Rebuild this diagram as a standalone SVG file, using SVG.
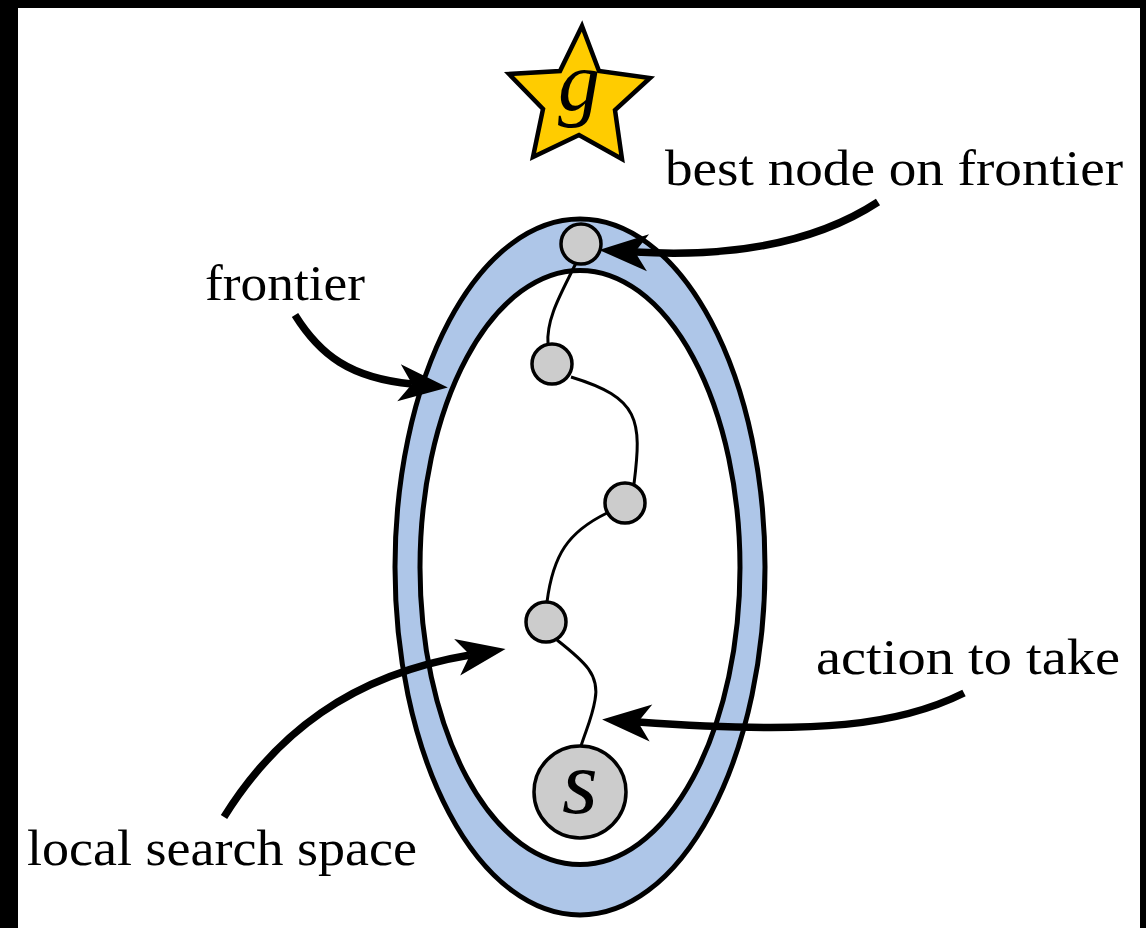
<svg xmlns="http://www.w3.org/2000/svg" width="1146" height="928" viewBox="0 0 1146 928">
<style>
.lbl{font-family:"Liberation Serif","Times New Roman",serif;font-size:51px;fill:#000}
.math{font-family:"Liberation Serif","Times New Roman",serif;font-style:italic;fill:#000;text-anchor:middle}
.node{fill:#cccccc;stroke:#000;stroke-width:3.5}
.edge{fill:none;stroke:#000;stroke-width:3}
.arrow{fill:none;stroke:#000;stroke-width:7.5;marker-end:url(#head)}
</style>
<defs>
<marker id="head" markerUnits="userSpaceOnUse" orient="auto" refX="0" refY="0" markerWidth="60" markerHeight="40" overflow="visible">
<path d="M36,0 L-13,-18.5 L0,0 L-13,18.5 Z" fill="#000"/>
</marker>
</defs>
<rect x="0" y="0" width="1146" height="928" fill="#000"/>
<rect x="18" y="8" width="1122" height="920" fill="#fff"/>
<g id="frontier-ring">
<ellipse cx="580" cy="567" rx="185" ry="348" fill="#aec6e8" stroke="#000" stroke-width="5"/>
<ellipse cx="580" cy="567.5" rx="160" ry="297" fill="#fff" stroke="#000" stroke-width="5"/>
</g>
<g id="goal">
<polygon points="582,26 599,71 650,78 615,110 622,159 579,135 533,157 543,109 509,74 560,71" fill="#ffcc00" stroke="#000" stroke-width="4.5" stroke-linejoin="miter"/>
<text class="math" x="579" y="110" font-size="84">g</text>
</g>
<g id="connectors">
<path class="edge" d="M576 263 C562 292 546 318 548 344"/>
<path class="edge" d="M571 377 C640 398 642 420 634 484"/>
<path class="edge" d="M607 513 C568 532 553 555 547 602"/>
<path class="edge" d="M557 640 C585 662 600 675 595 700 C592 718 586 730 581 746"/>
<path class="arrow" d="M878 202 C820 240 740 258 635 252"/>
<path class="arrow" d="M295 315 C320 355 350 378 412 384"/>
<path class="arrow" d="M224 817 C275 735 350 675 470 655"/>
<path class="arrow" d="M964 693 C900 725 820 735 638 722"/>
</g>
<g id="n-best"><circle class="node" cx="581" cy="244" r="20"/></g>
<g id="n2"><circle class="node" cx="552" cy="364" r="20"/></g>
<g id="n3"><circle class="node" cx="625" cy="503" r="20"/></g>
<g id="n4"><circle class="node" cx="546" cy="622" r="20"/></g>
<g id="start"><circle class="node" cx="580" cy="792" r="46"/><text class="math" x="580" y="813" font-size="92">s</text></g>
<g id="labels">
<text class="lbl" x="665" y="185" textLength="458" lengthAdjust="spacingAndGlyphs">best node on frontier</text>
<text class="lbl" x="205" y="300" textLength="160" lengthAdjust="spacingAndGlyphs">frontier</text>
<text class="lbl" x="816" y="674" textLength="304" lengthAdjust="spacingAndGlyphs">action to take</text>
<text class="lbl" x="27" y="865" textLength="390" lengthAdjust="spacingAndGlyphs">local search space</text>
</g>
</svg>
